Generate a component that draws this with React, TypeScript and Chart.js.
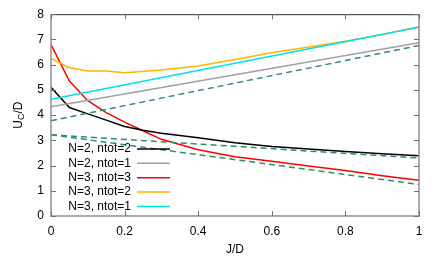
import React, { useEffect, useRef } from "react";
import { Chart, registerables } from "chart.js";

Chart.register(...registerables);

const xTicks = [0, 0.2, 0.4, 0.6, 0.8, 1];
const yTicks = [0, 1, 2, 3, 4, 5, 6, 7, 8];

const blackX = [0, 0.05, 0.1, 0.15, 0.2, 0.25, 0.3, 0.4, 0.5, 0.6, 0.7, 0.8, 0.9, 1];
const blackY = [5.1, 4.3, 4.05, 3.8, 3.55, 3.4, 3.28, 3.1, 2.9, 2.76, 2.66, 2.56, 2.47, 2.39];

const grayX = [0, 1];
const grayY = [4.33, 6.87];

const redX = [0, 0.05, 0.1, 0.15, 0.2, 0.25, 0.3, 0.4, 0.5, 0.6, 0.7, 0.8, 0.9, 1];
const redY = [6.8, 5.35, 4.57, 4.1, 3.72, 3.38, 3.04, 2.63, 2.35, 2.17, 1.98, 1.8, 1.6, 1.42];

const orangeX = [0, 0.05, 0.1, 0.15, 0.2, 0.3, 0.4, 0.5, 0.6, 0.7, 0.8, 0.9, 1];
const orangeY = [6.25, 5.88, 5.75, 5.75, 5.68, 5.79, 5.95, 6.2, 6.47, 6.7, 6.93, 7.2, 7.5];

const cyanX = [0, 1];
const cyanY = [4.63, 7.48];

const green1X = [0, 1];
const green1Y = [3.78, 6.76];
const green2X = [0, 1];
const green2Y = [3.22, 2.3];
const green3X = [0, 1];
const green3Y = [3.22, 1.25];

const legendLabels = ["N=2, ntot=2", "N=2, ntot=1", "N=3, ntot=3", "N=3, ntot=2", "N=3, ntot=1"];
const legendColors = ["#000000", "#a0a0a0", "#ff0000", "#ffb400", "#00e0e8"];

const FONT = '"Liberation Sans", Arial, sans-serif';

function pts(xs: number[], ys: number[]) {
  return xs.map((x, i) => ({ x, y: ys[i] }));
}

const framePlugin = {
  id: "frame",
  afterDatasetsDraw(chart: any) {
    const { ctx, chartArea, scales } = chart;
    const { left, right, top, bottom } = chartArea;
    ctx.save();
    // border
    ctx.lineWidth = 1.5;
    ctx.strokeStyle = "#909090";
    ctx.beginPath();
    ctx.moveTo(left, top);
    ctx.lineTo(left, bottom);
    ctx.lineTo(right, bottom);
    ctx.lineTo(right, top);
    ctx.stroke();
    ctx.strokeStyle = "#303030";
    ctx.lineWidth = 1;
    ctx.beginPath();
    ctx.moveTo(left, top + 0.5);
    ctx.lineTo(right, top + 0.5);
    ctx.stroke();
    // inward ticks
    ctx.strokeStyle = "#707070";
    ctx.lineWidth = 1;
    ctx.beginPath();
    xTicks.forEach((v) => {
      const px = Math.round(scales.x.getPixelForValue(v)) + 0.5;
      ctx.moveTo(px, bottom);
      ctx.lineTo(px, bottom - 5);
      ctx.moveTo(px, top);
      ctx.lineTo(px, top + 5);
    });
    yTicks.forEach((v) => {
      const py = Math.round(scales.y.getPixelForValue(v)) + 0.5;
      ctx.moveTo(left, py);
      ctx.lineTo(left + 5, py);
      ctx.moveTo(right, py);
      ctx.lineTo(right - 5, py);
    });
    ctx.stroke();

    // legend
    ctx.font = "12px " + FONT;
    ctx.textAlign = "right";
    ctx.textBaseline = "middle";
    const rowY0 = scales.y.getPixelForValue(2.66);
    const step = 14.4;
    legendLabels.forEach((lab, i) => {
      const y = rowY0 + i * step;
      ctx.fillStyle = "#000";
      ctx.fillText(lab, 131, y);
      ctx.strokeStyle = legendColors[i];
      ctx.lineWidth = 1.5;
      ctx.beginPath();
      ctx.moveTo(137, y);
      ctx.lineTo(170, y);
      ctx.stroke();
    });

    // axis titles
    ctx.fillStyle = "#000";
    ctx.textAlign = "center";
    ctx.textBaseline = "middle";
    ctx.fillText("J/D", (left + right) / 2, 250);

    ctx.save();
    ctx.translate(19, (top + bottom) / 2);
    ctx.rotate(-Math.PI / 2);
    const f1 = "12px " + FONT;
    const f2 = "9px " + FONT;
    ctx.font = f1;
    const wU = ctx.measureText("U").width;
    const wD = ctx.measureText("/D").width;
    ctx.font = f2;
    const wC = ctx.measureText("C").width;
    const total = wU + wC + wD;
    let x = -total / 2;
    ctx.textAlign = "left";
    ctx.font = f1;
    ctx.fillText("U", x, 0);
    x += wU;
    ctx.font = f2;
    ctx.fillText("C", x, 3);
    x += wC;
    ctx.font = f1;
    ctx.fillText("/D", x, 0);
    ctx.restore();

    ctx.restore();
  },
};

export default function App() {
  const ref = useRef<HTMLCanvasElement | null>(null);
  useEffect(() => {
    if (!ref.current) return;
    const line = (xs: number[], ys: number[], color: string, dashed = false) => ({
      data: pts(xs, ys),
      borderColor: color,
      backgroundColor: color,
      borderWidth: 1.5,
      borderDash: dashed ? [6, 4] : [],
      pointRadius: 0,
      tension: 0,
      fill: false,
    });
    const chart = new Chart(ref.current, {
      type: "line",
      data: {
        datasets: [
          line(green1X, green1Y, "#2e9060", true),
          line(green2X, green2Y, "#2e9060", true),
          line(green3X, green3Y, "#2e9060", true),
          line(grayX, grayY, legendColors[1]),
          line(cyanX, cyanY, legendColors[4]),
          line(orangeX, orangeY, legendColors[3]),
          line(blackX, blackY, legendColors[0]),
          line(redX, redY, legendColors[2]),
        ] as any,
      },
      options: {
        animation: false,
        responsive: false,
        layout: { padding: { left: 0, right: 17, top: 13, bottom: 0 } },
        plugins: { legend: { display: false }, tooltip: { enabled: false } },
        scales: {
          x: {
            type: "linear",
            min: 0,
            max: 1,
            grid: { display: false, drawTicks: false },
            border: { display: false },
            afterFit: (s: any) => {
              s.height = 46;
            },
            afterBuildTicks: (s: any) => {
              s.ticks = xTicks.map((v) => ({ value: v }));
            },
            ticks: {
              padding: 8,
              color: "#000",
              font: { family: FONT, size: 12 },
              callback: (v: any) => String(v),
              maxRotation: 0,
            },
          },
          y: {
            type: "linear",
            min: 0,
            max: 8,
            grid: { display: false, drawTicks: false },
            border: { display: false },
            afterFit: (s: any) => {
              s.width = 51;
            },
            afterBuildTicks: (s: any) => {
              s.ticks = yTicks.map((v) => ({ value: v }));
            },
            ticks: {
              padding: 7,
              color: "#000",
              font: { family: FONT, size: 12 },
              callback: (v: any) => String(v),
            },
          },
        },
      },
      plugins: [framePlugin],
    });
    return () => chart.destroy();
  }, []);
  return (
    <div style={{ position: "fixed", left: 0, top: 0, width: 436, height: 262, background: "#fff" }}>
      <canvas ref={ref} width={436} height={262} style={{ width: 436, height: 262, display: "block" }} />
    </div>
  );
}
